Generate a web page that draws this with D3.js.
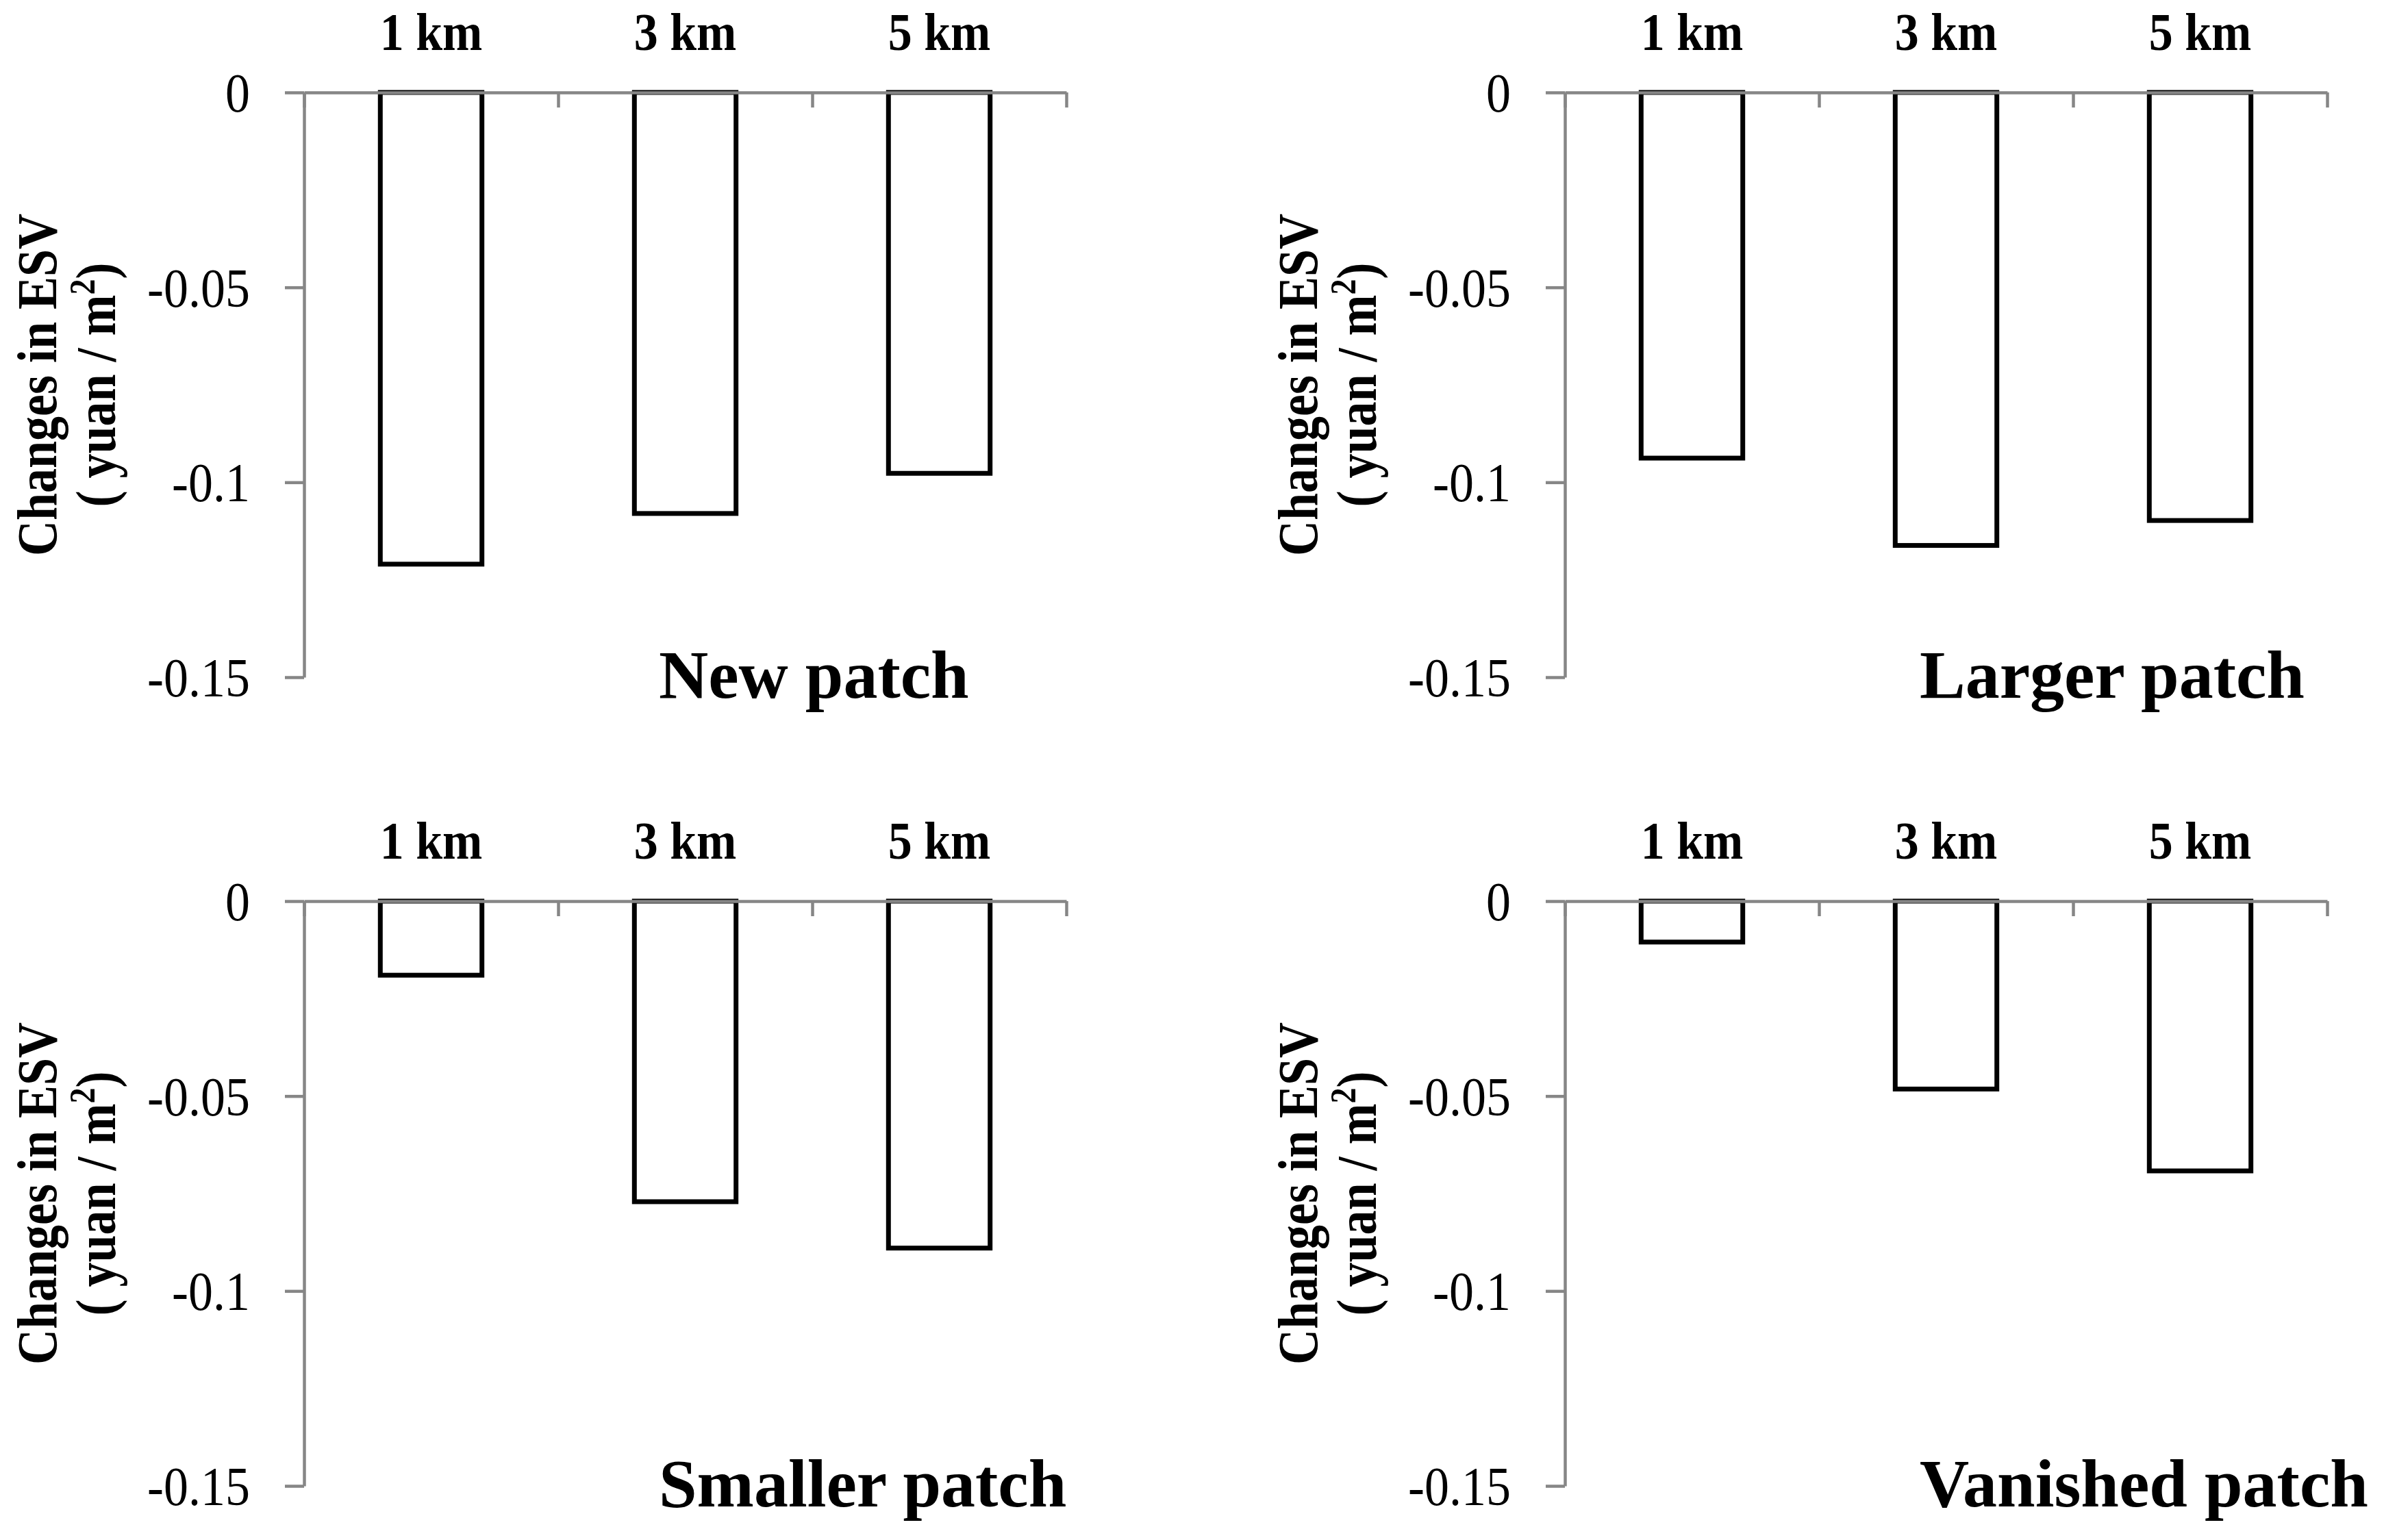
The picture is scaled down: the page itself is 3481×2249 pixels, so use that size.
<!DOCTYPE html>
<html>
<head>
<meta charset="utf-8">
<script src="https://cdn.jsdelivr.net/npm/d3@7"></script>
<style>
  body { margin: 0; background: #fff; }
  text { font-family: "Liberation Serif", "Times New Roman", serif; }
</style>
</head>
<body>
<div id="chart"></div>
<script>
var categories = ["1 km", "3 km", "5 km"];
var panelTitles = ["New patch", "Larger patch", "Smaller patch", "Vanished patch"];
var newPatch = [-0.121, -0.108, -0.0977];
var largerPatch = [-0.0938, -0.1162, -0.1098];
var smallerPatch = [-0.019, -0.0771, -0.089];
var vanishedPatch = [-0.0105, -0.0482, -0.0692];
var yTicks = [0, -0.05, -0.1, -0.15];
var yTickLabels = ["0", "-0.05", "-0.1", "-0.15"];

var panelValues = [newPatch, largerPatch, smallerPatch, vanishedPatch];

var W = 3481, H = 2249;
var plotW = 1113, plotH = 854;
// axis origin (top left of the plot area) for every panel
var origins = [[444, 135], [2285, 135], [444, 1316], [2285, 1316]];
var axisColor = "#868686";
var stretch = 1.12; // the source text is a bit taller than plain Times

var svg = d3.select("#chart")
  .append("svg")
  .attr("width", W)
  .attr("height", H)
  .style("background", "#fff");

var x = d3.scaleBand()
  .domain(categories)
  .range([0, plotW])
  .paddingInner(0.6)
  .paddingOuter(0.3);

// category boundaries, used for the small tick marks on the zero line
var xEdges = d3.scaleLinear()
  .domain([0, categories.length])
  .range([0, plotW]);

var y = d3.scaleLinear()
  .domain([-0.15, 0])
  .range([plotH, 0]);

panelValues.forEach(function(vals, p) {
  var g = svg.append("g")
    .attr("transform", "translate(" + origins[p][0] + "," + origins[p][1] + ")");

  var rows = categories.map(function(c, i) { return {cat: c, value: vals[i]}; });

  // bars
  g.selectAll("rect.bar")
    .data(rows)
    .enter()
    .append("rect")
    .attr("class", "bar")
    .attr("x", function(d) { return x(d.cat); })
    .attr("y", y(0))
    .attr("width", x.bandwidth())
    .attr("height", function(d) { return y(d.value) - y(0); })
    .attr("fill", "#fff")
    .attr("stroke", "#000")
    .attr("stroke-width", 7);

  // y axis
  var yAxis = g.append("g")
    .call(d3.axisLeft(y)
      .tickValues(yTicks)
      .tickSize(28)
      .tickSizeOuter(0)
      .tickPadding(51)
      .tickFormat(function(d, i) { return yTickLabels[i]; }));
  yAxis.select(".domain").attr("stroke", axisColor).attr("stroke-width", 4.5);
  yAxis.selectAll(".tick line").attr("stroke", axisColor).attr("stroke-width", 4.5);
  yAxis.selectAll(".tick text")
    .attr("fill", "#000")
    .attr("dy", "0.34em")
    .attr("transform", "scale(1," + stretch + ")")
    .style("font-family", "'Liberation Serif', 'Times New Roman', serif")
    .style("font-size", "72px");

  // x axis on the zero line
  var xAxis = g.append("g")
    .attr("transform", "translate(0," + y(0) + ")")
    .call(d3.axisTop(xEdges)
      .ticks(categories.length)
      .tickSize(-22)
      .tickSizeOuter(0)
      .tickFormat(""));
  xAxis.select(".domain").attr("stroke", axisColor).attr("stroke-width", 4.5);
  xAxis.selectAll(".tick line").attr("stroke", axisColor).attr("stroke-width", 4.5);

  // category labels above the plot
  g.selectAll("text.cat")
    .data(categories)
    .enter()
    .append("text")
    .attr("class", "cat")
    .attr("transform", function(d) {
      return "translate(" + (x(d) + x.bandwidth() / 2) + "," + (y(0) - 62) + ") scale(1," + stretch + ")";
    })
    .attr("text-anchor", "middle")
    .attr("font-weight", "bold")
    .attr("font-size", 70)
    .text(function(d) { return d; });

  // panel title
  g.append("text")
    .attr("x", 518)
    .attr("y", y(0) + 884)
    .attr("font-weight", "bold")
    .attr("font-size", 100)
    .text(panelTitles[p]);

  // y axis title, two lines
  var ty = g.append("g")
    .attr("transform", "translate(0," + (plotH / 2) + ") rotate(-90)");
  ty.append("text")
    .attr("transform", "translate(0,-362) scale(1,1.16)")
    .attr("text-anchor", "middle")
    .attr("font-weight", "bold")
    .attr("font-size", 72)
    .text("Changes in ESV");
  var t2 = ty.append("text")
    .attr("transform", "translate(0,-276) scale(1,1.16)")
    .attr("text-anchor", "middle")
    .attr("font-weight", "bold")
    .attr("font-size", 72);
  t2.append("tspan").text("( yuan / m");
  t2.append("tspan").attr("dy", -26).attr("font-size", 46).text("2");
  t2.append("tspan").attr("dy", 26).text(")");
});
</script>
</body>
</html>
